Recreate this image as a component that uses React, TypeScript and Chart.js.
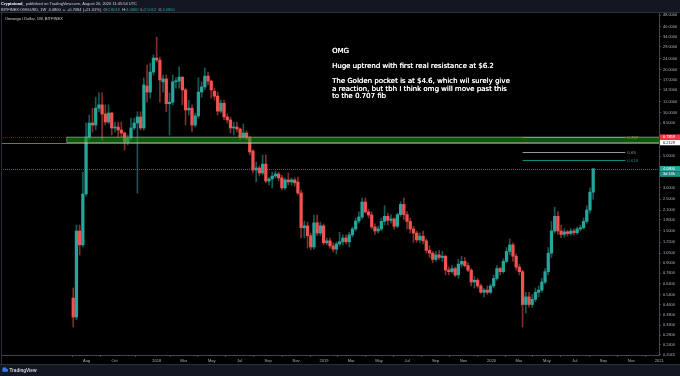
import React, { useEffect, useRef } from "react";
import { Chart, registerables } from "chart.js";

Chart.register(...registerables);

// ---------- data ----------
const FIRST_WEEK = "2017-07-03";
const WEEKS_BEFORE = 22;
const WEEKS_AFTER = 20;

const opens = [
  0.51, 0.376, 1.5, 1.2, 2.72, 6.79, 8.51, 8.24, 10.8, 11.4, 9.84, 8.65, 10.0, 7.86, 7.98, 7.61, 7.25, 6.27, 6.69, 7.86,
  8.51, 9.38, 7.86, 15.4, 14.0, 19.3, 24.2, 23.4, 16.5, 17.3, 11.6, 11.9, 16.5, 16.7, 17.8, 14.5, 10.5, 10.8, 8.24, 9.53,
  14.0, 15.2, 18.1, 16.7, 14.2, 13.1, 10.3, 11.7, 9.38, 8.94, 7.86, 7.98, 7.73, 6.79, 7.25, 6.69, 5.43, 4.0, 4.13, 3.81,
  4.4, 3.35, 3.46, 3.63, 3.75, 3.52, 3.0, 3.41, 3.3, 3.41, 3.3, 2.76, 1.58, 1.63, 1.39, 1.16, 1.71, 1.45, 1.63, 1.24,
  1.28, 1.18, 1.12, 1.22, 1.26, 1.34, 1.26, 1.41, 1.55, 1.76, 1.88, 2.39, 2.04, 1.94, 1.6, 1.5, 1.55, 1.75, 1.9, 1.78,
  1.82, 1.62, 1.95, 2.3, 1.95, 1.75, 1.55, 1.45, 1.3, 1.38, 1.28, 1.1, 1.05, 0.95, 1.02, 0.98, 1.0, 0.8, 0.78, 0.82,
  0.74, 0.88, 0.92, 0.86, 0.8, 0.66, 0.68, 0.62, 0.56, 0.58, 0.56, 0.62, 0.7, 0.82, 0.78, 0.92, 1.08, 1.2, 1.0, 0.84,
  0.78, 0.46, 0.52, 0.46, 0.5, 0.56, 0.58, 0.66, 0.78, 1.05, 1.5, 1.9, 1.5, 1.42, 1.48, 1.44, 1.5, 1.46, 1.55, 1.58,
  1.75, 2.1, 2.8,
];
const highs = [
  0.6, 1.65, 1.65, 3.87, 8.51, 9.68, 10.8, 12.9, 13.8, 13.8, 11.4, 11.4, 10.1, 8.65, 8.65, 8.65, 7.37, 7.02, 9.2, 9.2,
  10.2, 10.2, 17.6, 21.6, 22.3, 25.5, 33.9, 24.6, 18.4, 18.4, 13.8, 18.4, 17.6, 21.0, 17.9, 14.9, 12.3, 11.4, 10.0, 17.6,
  16.5, 20.6, 19.3, 17.0, 14.9, 14.0, 12.3, 12.3, 9.84, 9.38, 8.65, 8.65, 7.86, 8.38, 7.49, 6.9, 5.52, 4.55, 4.27, 5.1,
  5.1, 3.57, 3.87, 3.93, 3.87, 3.69, 3.52, 3.81, 3.52, 3.52, 3.57, 2.9, 1.76, 1.73, 1.45, 1.94, 1.94, 1.73, 1.68, 1.34,
  1.34, 1.24, 1.26, 1.47, 1.41, 1.41, 1.47, 1.6, 1.85, 2.04, 2.55, 2.55, 2.13, 2.04, 1.68, 1.62, 1.85, 2.25, 2.0, 1.95,
  1.86, 2.0, 2.4, 2.55, 2.05, 1.85, 1.62, 1.5, 1.45, 1.5, 1.32, 1.18, 1.08, 1.08, 1.1, 1.08, 1.02, 0.84, 0.86, 0.84,
  0.95, 1.0, 0.98, 0.9, 0.82, 0.72, 0.7, 0.64, 0.6, 0.62, 0.64, 0.74, 0.86, 0.84, 0.96, 1.15, 1.32, 1.24, 1.04, 0.88,
  0.8, 0.56, 0.56, 0.54, 0.6, 0.62, 0.7, 0.82, 1.15, 1.75, 2.2, 2.05, 1.65, 1.55, 1.52, 1.56, 1.55, 1.6, 1.65, 1.85,
  2.25, 3.0, 4.08,
];
const lows = [
  0.32, 0.36, 1.02, 1.16, 2.63, 6.47, 7.37, 7.61, 10.2, 6.47, 8.24, 8.4, 7.02, 7.37, 6.79, 6.79, 5.52, 5.99, 6.47, 7.61,
  2.76, 7.61, 7.6, 11.9, 12.7, 18.4, 22.7, 11.9, 14.0, 10.2, 7.02, 11.4, 14.9, 14.9, 11.4, 8.24, 9.68, 7.37, 7.98, 9.2,
  12.9, 14.5, 15.7, 12.7, 12.3, 9.68, 10.0, 8.94, 8.51, 7.25, 7.02, 7.37, 6.47, 6.58, 6.47, 5.1, 3.81, 3.3, 3.63, 3.7,
  3.25, 3.14, 3.0, 3.52, 3.35, 2.9, 2.9, 3.14, 3.14, 3.09, 2.68, 1.34, 1.34, 1.14, 1.11, 1.12, 1.39, 1.39, 1.2, 1.2,
  1.14, 1.07, 1.04, 1.18, 1.2, 1.22, 1.16, 1.36, 1.5, 1.71, 1.82, 2.0, 1.85, 1.55, 1.42, 1.45, 1.5, 1.65, 1.65, 1.7,
  1.55, 1.58, 1.9, 1.8, 1.55, 1.45, 1.25, 1.25, 1.25, 1.22, 1.05, 0.98, 0.9, 0.92, 0.95, 0.92, 0.74, 0.74, 0.76, 0.72,
  0.7, 0.84, 0.84, 0.78, 0.62, 0.6, 0.6, 0.55, 0.52, 0.54, 0.55, 0.6, 0.68, 0.74, 0.76, 0.9, 1.02, 0.92, 0.8, 0.74,
  0.32, 0.4, 0.44, 0.44, 0.48, 0.52, 0.56, 0.64, 0.74, 0.98, 1.45, 1.42, 1.35, 1.36, 1.38, 1.4, 1.4, 1.42, 1.5, 1.55,
  1.7, 2.0, 2.5,
];
const closes = [
  0.376, 1.5, 1.2, 2.72, 6.79, 8.51, 8.24, 10.8, 11.4, 9.84, 8.65, 10.0, 7.86, 7.98, 7.61, 7.25, 6.27, 6.69, 7.86, 8.51,
  9.38, 7.86, 15.7, 14.0, 19.3, 24.2, 23.4, 17.0, 17.3, 11.6, 11.9, 16.5, 16.7, 17.8, 14.5, 10.5, 10.8, 8.24, 9.53, 14.0,
  15.2, 18.1, 16.7, 14.5, 13.1, 10.3, 11.7, 9.38, 8.94, 7.86, 7.98, 7.73, 6.79, 7.25, 6.69, 5.34, 4.0, 4.13, 3.81, 4.4,
  3.35, 3.46, 3.63, 3.75, 3.52, 3.0, 3.41, 3.3, 3.41, 3.25, 2.76, 1.58, 1.63, 1.39, 1.16, 1.71, 1.45, 1.63, 1.24, 1.28,
  1.18, 1.12, 1.22, 1.26, 1.34, 1.26, 1.41, 1.55, 1.76, 1.88, 2.39, 2.04, 1.94, 1.6, 1.5, 1.55, 1.75, 1.9, 1.78, 1.82,
  1.62, 1.95, 2.3, 1.95, 1.75, 1.55, 1.45, 1.3, 1.38, 1.28, 1.1, 1.05, 0.95, 1.02, 0.98, 1.0, 0.8, 0.78, 0.82, 0.74,
  0.88, 0.92, 0.86, 0.8, 0.66, 0.68, 0.62, 0.56, 0.58, 0.56, 0.62, 0.7, 0.82, 0.78, 0.92, 1.08, 1.2, 1.0, 0.84, 0.78,
  0.46, 0.52, 0.46, 0.5, 0.56, 0.58, 0.66, 0.78, 1.05, 1.5, 1.9, 1.5, 1.42, 1.48, 1.44, 1.5, 1.46, 1.55, 1.58, 1.75,
  2.1, 2.8, 4.08,
];

const priceTicks = [48, 40, 34, 29, 24, 20, 17, 14.5, 12, 10, 8.5, 5, 3, 2.5, 2.1, 1.8, 1.5, 1.25, 1.05, 0.9, 0.76, 0.64, 0.54, 0.46, 0.39, 0.33, 0.28, 0.24, 0.2045];
const priceMin = 0.2043;
const priceMax = 49.9;

const timeTickDates = [
  "2017-08-01", "2017-10-01", "2018-01-01", "2018-03-01", "2018-05-01", "2018-07-01", "2018-09-01", "2018-11-01",
  "2019-01-01", "2019-03-01", "2019-05-01", "2019-07-01", "2019-09-01", "2019-11-01", "2020-01-01", "2020-03-01",
  "2020-05-01", "2020-07-01", "2020-09-01", "2020-11-01", "2021-01-01",
];
const timeTickLabels = ["Aug", "Oct", "2018", "Mar", "May", "Jul", "Sep", "Nov", "2019", "Mar", "May", "Jul", "Sep", "Nov", "2020", "Mar", "May", "Jul", "Sep", "Nov", "2021"];

const zoneTop = 6.7859;
const zoneBottom = 6.2129;
const zoneStartWeek = -2;
const lastPrice = 4.08;
const prevClose = 3.3716;
const countdown = "3d 13h";
const headerOpen = "2.8019";
const headerLow = "2.5012";

const fibLevels = ["0.707", "0.65", "0.618"];
const fibPrices = [6.7859, 5.36, 4.68];
const fibColors = ["#9b9a3c", "#9598a1", "#13897e"];
const fibStartWeek = 140;
const fibEndWeek = 172;

const noteWeek = 80.6;
const notePrice = 26.8;
const noteLines = [
  "OMG",
  "",
  "Huge uptrend with first real resistance at $6.2",
  "",
  "The Golden pocket is at $4.6, which wil surely give",
  "a reaction, but tbh I think omg will move past this",
  "to the 0.707 fib",
];

// ---------- helpers ----------
const UP = "#26a69a";
const DOWN = "#ef5350";
const UP_WICK = "rgba(38,166,154,0.55)";
const DOWN_WICK = "rgba(239,83,80,0.55)";
const WEEK_MS = 7 * 86400000;
const weekOf = (d: string) => (Date.parse(d) - Date.parse(FIRST_WEEK)) / WEEK_MS;

const N = WEEKS_BEFORE + opens.length + WEEKS_AFTER;
const labels = Array.from({ length: N }, (_, k) => String(k - WEEKS_BEFORE));
const idx = (k: number) => k - WEEKS_BEFORE;
const has = (k: number) => idx(k) >= 0 && idx(k) < opens.length;

const bodies = labels.map((_, k) => (has(k) ? [opens[idx(k)], closes[idx(k)]] : null));
const wicks = labels.map((_, k) => (has(k) ? [lows[idx(k)], highs[idx(k)]] : null));
const bodyColors = labels.map((_, k) => (has(k) && closes[idx(k)] < opens[idx(k)] ? DOWN : UP));
const wickColors = labels.map((_, k) => (has(k) && closes[idx(k)] < opens[idx(k)] ? DOWN_WICK : UP_WICK));

const SANS = "'Liberation Sans', Arial, sans-serif";

function drawSegments(ctx: CanvasRenderingContext2D, x: number, y: number, segs: [string, string, string?][]) {
  let cx = x;
  for (const [text, color, weight] of segs) {
    ctx.font = `${weight || "normal"} 4px ${SANS}`;
    ctx.fillStyle = color;
    ctx.fillText(text, cx, y);
    cx += ctx.measureText(text).width;
  }
}

const overlayPlugin = {
  id: "tvOverlay",
  beforeDraw(chart: any) {
    const { ctx, width, height } = chart;
    ctx.save();
    ctx.fillStyle = "#000000";
    ctx.fillRect(0, 0, width, height);
    ctx.fillStyle = "#131722";
    ctx.fillRect(0, 0, width, 13);
    ctx.fillRect(0, 365, width, height - 365);
    ctx.restore();
  },
  afterDatasetsDraw(chart: any) {
    const { ctx, chartArea: a, scales } = chart;
    const x = scales.x;
    const y = scales.y;
    ctx.save();
    ctx.beginPath();
    ctx.rect(a.left, a.top, a.right - a.left, a.bottom - a.top);
    ctx.clip();

    const hline = (price: number, color: string, dash: number[]) => {
      const py = Math.round(y.getPixelForValue(price)) + 0.5;
      ctx.strokeStyle = color;
      ctx.lineWidth = 1;
      ctx.setLineDash(dash);
      ctx.beginPath();
      ctx.moveTo(a.left, py);
      ctx.lineTo(a.right, py);
      ctx.stroke();
      ctx.setLineDash([]);
    };
    hline(zoneTop, "rgba(180,40,40,0.6)", [1, 1]);
    hline(zoneBottom, "rgba(200,200,200,0.55)", []);
    hline(lastPrice, "rgba(38,166,154,0.7)", [1, 1]);

    // resistance zone
    const zx = x.getPixelForValue(WEEKS_BEFORE + zoneStartWeek);
    const zt = y.getPixelForValue(zoneTop);
    const zb = y.getPixelForValue(zoneBottom);
    ctx.fillStyle = "rgba(20,160,20,0.55)";
    ctx.fillRect(zx, zt, a.right - zx, zb - zt);
    ctx.strokeStyle = "rgba(170,190,165,0.75)";
    ctx.lineWidth = 0.8;
    ctx.strokeRect(zx, zt, a.right - zx + 2, zb - zt);

    // fib levels
    const fx1 = x.getPixelForValue(WEEKS_BEFORE + fibStartWeek);
    const fx2 = x.getPixelForValue(WEEKS_BEFORE + fibEndWeek);
    ctx.font = `4.4px ${SANS}`;
    ctx.textBaseline = "middle";
    fibPrices.forEach((p, i) => {
      const py = Math.round(y.getPixelForValue(p)) + 0.5;
      ctx.strokeStyle = fibColors[i];
      ctx.lineWidth = 1;
      ctx.beginPath();
      ctx.moveTo(fx1, py);
      ctx.lineTo(fx2, py);
      ctx.stroke();
      ctx.fillStyle = fibColors[i];
      ctx.fillText(fibLevels[i], fx2 + 2, py);
    });

    // note
    const nx = x.getPixelForValue(WEEKS_BEFORE + noteWeek);
    const ny = y.getPixelForValue(notePrice);
    ctx.fillStyle = "#ffffff";
    ctx.font = `7px 'DejaVu Sans', sans-serif`;
    ctx.textBaseline = "middle";
    noteLines.forEach((t, i) => {
      if (t) {
        ctx.fillText(t, nx, ny + i * 7.5);
        ctx.fillText(t, nx + 0.25, ny + i * 7.5);
      }
    });
    ctx.restore();
  },
  afterDraw(chart: any) {
    const { ctx, chartArea: a, scales, width } = chart;
    const y = scales.y;
    ctx.save();
    // borders
    ctx.strokeStyle = "#2a2e39";
    ctx.lineWidth = 1;
    ctx.beginPath();
    ctx.moveTo(1.5, 13);
    ctx.lineTo(1.5, 365);
    ctx.moveTo(0, 364.5);
    ctx.lineTo(width, 364.5);
    ctx.moveTo(0, 12.5);
    ctx.lineTo(width, 12.5);
    ctx.stroke();

    // price boxes on axis
    const box = (price: number, bg: string, fg: string, text: string, dy = 0) => {
      const cy = y.getPixelForValue(price) + dy;
      ctx.fillStyle = bg;
      ctx.fillRect(a.right + 1, cy - 2.7, width - a.right - 1, 5.4);
      ctx.fillStyle = fg;
      ctx.font = `3.9px ${SANS}`;
      ctx.textBaseline = "middle";
      ctx.textAlign = "left";
      ctx.fillText(text, a.right + 4, cy + 0.2);
    };
    box(zoneTop, "#f23645", "#ffffff", zoneTop.toFixed(4));
    box(zoneBottom, "#ffffff", "#131722", zoneBottom.toFixed(4));
    box(lastPrice, "#26a69a", "#ffffff", lastPrice.toFixed(4));
    box(lastPrice, "#1f8f84", "#ffffff", countdown, 5.4);

    // header
    ctx.textBaseline = "middle";
    ctx.textAlign = "left";
    drawSegments(ctx, 1, 4, [
      ["Cryptotoad_", "#ffffff", "bold"],
      [" published on TradingView.com, August 20, 2020 11:45:54 UTC", "#d1d4dc"],
    ]);
    const last = opens.length - 1;
    const chg = closes[last] - prevClose;
    const pct = (chg / prevClose) * 100;
    drawSegments(ctx, 1, 10, [
      ["BITFINEX:OMGUSD, 1W  ", "#d1d4dc"],
      [closes[last].toFixed(4), "#d1d4dc"],
      [" \u25B2 ", UP],
      [`+${chg.toFixed(4)} (+${pct.toFixed(2)}%)`, "#d1d4dc"],
      ["  O:", "#d1d4dc"],
      [headerOpen, UP],
      ["  H:", "#d1d4dc"],
      [highs[last].toFixed(4), UP],
      ["  L:", "#d1d4dc"],
      [headerLow, UP],
      ["  C:", "#d1d4dc"],
      [closes[last].toFixed(4), UP],
    ]);
    drawSegments(ctx, 5, 19.3, [["Omisego / Dollar, 1W, BITFINEX", "#d1d4dc"]]);

    // footer logo
    ctx.fillStyle = "#3179f5";
    ctx.beginPath();
    ctx.arc(4.5, 369.5, 2.2, Math.PI, 0);
    ctx.arc(6.8, 370.3, 1.5, -Math.PI / 2, Math.PI / 2);
    ctx.lineTo(2.3, 371.8);
    ctx.closePath();
    ctx.fill();
    ctx.font = `bold 4.6px ${SANS}`;
    ctx.fillStyle = "#d1d4dc";
    ctx.fillText("TradingView", 9.5, 370.3);
    ctx.restore();
  },
};

export default function App() {
  const ref = useRef<HTMLCanvasElement | null>(null);
  useEffect(() => {
    document.body.style.margin = "0";
    document.body.style.background = "#000";
    const canvas = ref.current;
    if (!canvas) return;
    const chart = new Chart(canvas, {
      type: "bar",
      data: {
        labels,
        datasets: [
          {
            label: "body",
            data: bodies as any,
            backgroundColor: bodyColors,
            barThickness: 2.6,
            grouped: false,
            order: 0,
            minBarLength: 1,
          } as any,
          {
            label: "wick",
            data: wicks as any,
            backgroundColor: wickColors,
            barThickness: 1,
            grouped: false,
            order: 1,
          } as any,
        ],
      },
      options: {
        animation: false,
        responsive: false,
        events: [],
        devicePixelRatio: window.devicePixelRatio || 1,
        layout: { padding: { top: 13, left: 1, right: 0, bottom: 11 } },
        plugins: { legend: { display: false }, tooltip: { enabled: false } },
        scales: {
          x: {
            type: "category",
            offset: true,
            grid: { drawOnChartArea: false, tickLength: 2, color: "#434651" },
            border: { display: true, color: "#434651" },
            ticks: {
              autoSkip: false,
              maxRotation: 0,
              padding: 1,
              color: "#b2b5be",
              font: { size: 4, family: "Liberation Sans" },
              callback: (_v: any, i: number) => timeTickLabels[i],
            },
            afterBuildTicks: (scale: any) => {
              scale.ticks = timeTickDates.map((d) => ({ value: WEEKS_BEFORE + weekOf(d) }));
            },
            afterFit: (scale: any) => {
              scale.height = 10;
            },
          },
          y: {
            type: "logarithmic",
            position: "right",
            min: priceMin,
            max: priceMax,
            grid: { drawOnChartArea: false, tickLength: 2, color: "#434651" },
            border: { display: true, color: "#434651" },
            ticks: {
              autoSkip: false,
              padding: 2,
              color: "#b2b5be",
              font: { size: 3.9, family: "Liberation Sans" },
              callback: (v: any) => Number(v).toFixed(4),
            },
            afterBuildTicks: (scale: any) => {
              scale.ticks = priceTicks.map((v) => ({ value: v }));
            },
            afterFit: (scale: any) => {
              scale.width = 21;
            },
          },
        },
      } as any,
      plugins: [overlayPlugin],
    });
    return () => chart.destroy();
  }, []);
  return (
    <div style={{ width: 680, height: 376 }}>
      <canvas ref={ref} width={680} height={376} style={{ display: "block", width: 680, height: 376 }} />
    </div>
  );
}
